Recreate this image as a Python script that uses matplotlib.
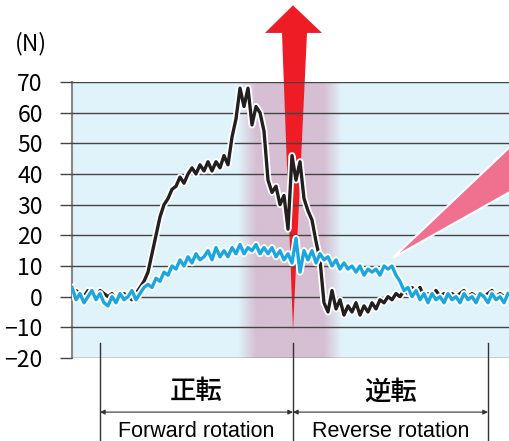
import numpy as np
import matplotlib
matplotlib.use("Agg")
import matplotlib.pyplot as plt
import matplotlib.patheffects as pe
from matplotlib.patches import Polygon
from matplotlib.transforms import blended_transform_factory

# sample position along the time axis (one sample every 4 px of the original)
t = np.arange(0, 440, 4)

# thrust force, reverse-rotation capable drive (blue) vs. conventional (black)
force_blue = [3, -1, 1, -2, 0, 2, -1, 1, -2, -3,
              0, -2, 1, -1, 0, 2, -1, 1, 3, 4,
              3, 6, 5, 8, 7, 10, 9, 12, 10, 13,
              11, 14, 12, 13, 15, 12, 16, 13, 15, 13,
              16, 14, 17, 14, 16, 15, 17, 14, 16, 14,
              16, 13, 15, 12, 14, 11, 19, 8, 15, 12,
              15, 11, 14, 12, 13, 10, 12, 9, 11, 9,
              10, 8, 10, 7, 9, 8, 9, 7, 10, 9,
              10, 7, 5, 2, 3, 0, 2, -1, 1, -2,
              1, -1, 0, -2, 1, -1, 0, -2, 1, -1,
              0, -2, 1, 0, -2, 1, -1, 0, -2, 1]

force_black = [1, 2, 1, 0, 2, 1, 0, 2, 1, 0,
               1, -1, 0, 1, 0, -1, 1, 3, 5, 8,
               14, 20, 26, 30, 32, 35, 36, 39, 37, 40,
               42, 40, 43, 41, 44, 41, 44, 42, 46, 43,
               52, 58, 68, 62, 68, 56, 62, 60, 54, 38,
               34, 36, 30, 33, 22, 46, 38, 44, 32, 28,
               25, 18, 12, -2, -5, 2, -4, -1, -6, -3,
               -5, -2, -6, -3, -5, -2, -4, -1, -2, 0,
               -1, 1, 0, 2, 1, 3, 1, 3, 0, 1,
               0, 2, 0, 1, 0, 1, 0, 1, 2, 0,
               1, 0, 1, 0, 1, 2, 0, 1, 0, 1]

yticks = [70, 60, 50, 40, 30, 20, 10, 0, -10, -20]
t_start, t_switch, t_end = 28, 221, 416

plt.rcParams['font.family'] = ['Noto Sans CJK JP', 'DejaVu Sans']

fig = plt.figure(figsize=(5.1, 4.41), dpi=100)
ax = fig.add_axes([72/510, 83/441, 438/510, 276/441])
ax.set_xlim(0, 438)
ax.set_ylim(-20, 70)
ax.set_facecolor('#e0f3fa')

# pink zone around the switch-over, soft edges
xs = np.linspace(0, 438, 439)
alpha = np.clip(np.minimum((xs - 166) / 18, (270 - xs) / 18), 0, 1)
band = np.zeros((1, len(xs), 4))
band[..., :3] = matplotlib.colors.to_rgb('#d6bfd2')
band[..., 3] = alpha
ax.imshow(band, extent=[0, 438, -20, 70], aspect='auto', zorder=0.5)

ax.set_yticks(yticks)
ax.set_xticks([])
ax.grid(axis='y', color='#444444', lw=1.0, zorder=1)
ax.set_axisbelow(False)
ax.tick_params(axis='y', length=9, width=1.0, color='#444444',
               labelsize=16.5, pad=12)
for s in ['top', 'right', 'bottom']:
    ax.spines[s].set_visible(False)
ax.spines['left'].set_color('#888888')
ax.spines['left'].set_linewidth(1.5)
ax.text(-41, 82.5, '(N)', fontsize=16.5, ha='center', va='center',
        clip_on=False)

# red arrow
arrow = Polygon([[221, 95], [193, 86], [210, 86], [221, -11],
                 [235, 86], [250, 86]], closed=True, fc='#ee1c25',
                ec='none', clip_on=False, zorder=2)
ax.add_patch(arrow)

halo = [pe.Stroke(linewidth=5, foreground='white'), pe.Normal()]
ax.plot(t, force_black, color='#231f20', lw=2.4, zorder=3,
        path_effects=halo)
ax.plot(t, force_blue, color='#1aa7e0', lw=2.4, zorder=4,
        path_effects=halo)

# pink pointer wedge
wedge = Polygon([[321, 12.7], [440, 49.5], [440, 34.5]], closed=True,
                fc='#f07090', ec='white', lw=1.5, clip_on=False, zorder=5)
ax.add_patch(wedge)

# rotation direction annotations below the chart
tr = blended_transform_factory(ax.transData, ax.transAxes)
for xv in (t_start, t_switch, t_end):
    ax.plot([xv, xv], [0.055, -0.30], color='#333333', lw=1.0,
            transform=tr, clip_on=False)
for a, b in ((t_start, t_switch), (t_switch, t_end)):
    ax.annotate('', xy=(a, -0.196), xytext=(b, -0.196), xycoords=tr,
                textcoords=tr,
                arrowprops=dict(arrowstyle='<|-|>', color='#333333', lw=0.8,
                                mutation_scale=7, shrinkA=0, shrinkB=0))
ax.text((t_start + t_switch) / 2, -0.123, '正転', transform=tr,
        fontsize=19, fontweight='medium', ha='center', va='center')
ax.text((t_switch + t_end) / 2, -0.123, '逆転', transform=tr,
        fontsize=19, fontweight='medium', ha='center', va='center')
eng = ['Liberation Sans Narrow', 'Liberation Sans', 'DejaVu Sans']
ax.text((t_start + t_switch) / 2, -0.268, 'Forward rotation', transform=tr,
        fontsize=15.5, ha='center', va='center', family=eng)
ax.text((t_switch + t_end) / 2, -0.268, 'Reverse rotation', transform=tr,
        fontsize=15.5, ha='center', va='center', family=eng)

fig.savefig('out.png', dpi=100)
